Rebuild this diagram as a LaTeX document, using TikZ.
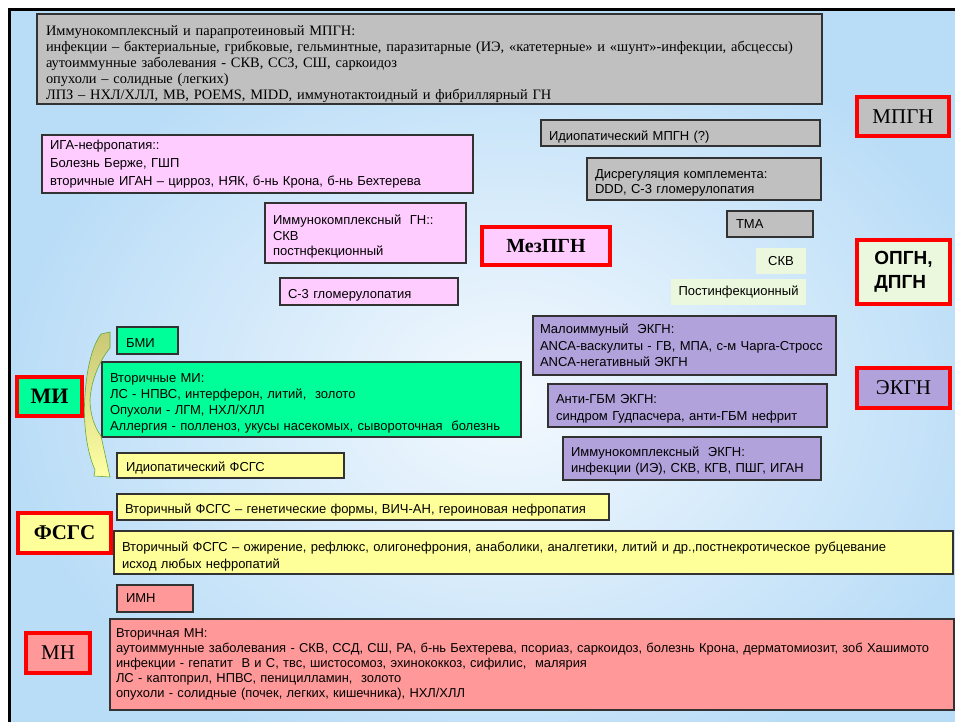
\documentclass[tikz,border=0pt]{standalone}
\usepackage{fontspec}
\setmainfont{Liberation Sans}
\newfontfamily\serifru{Liberation Serif}
\definecolor{bgin}{RGB}{244,249,254}
\definecolor{bgout}{RGB}{186,221,247}
\definecolor{boxline}{RGB}{50,50,50}
\definecolor{cgray}{RGB}{192,192,192}
\definecolor{cpink}{RGB}{255,204,255}
\definecolor{cgreen}{RGB}{0,255,153}
\definecolor{cyellow}{RGB}{255,255,153}
\definecolor{clav}{RGB}{178,162,220}
\definecolor{cred}{RGB}{255,153,153}
\definecolor{clgreen}{RGB}{236,248,222}
\definecolor{khaki}{RGB}{200,200,118}
\definecolor{paleyel}{RGB}{255,255,165}
\definecolor{arrgreen}{RGB}{100,170,60}
\tikzset{
  box/.style={draw=boxline, line width=1.1pt, anchor=north west, outer sep=0pt,
    inner xsep=8pt, inner ysep=0pt, align=left, font=\fontsize{13}{16}\selectfont},
  pushdown/.style={execute at begin node={\rule{0pt}{#1}}},
  lab/.style={draw=red, line width=3.5pt, anchor=north west, outer sep=0pt,
    inner sep=0pt, align=center, font=\serifru\fontsize{21}{24}\selectfont},
  plain/.style={anchor=north west, outer sep=0pt, inner sep=0pt, align=center,
    font=\fontsize{13}{16}\selectfont}
}
\begin{document}
\begin{tikzpicture}[x=1pt,y=-1pt]
\useasboundingbox (0,0) rectangle (955,722);
\clip (0,0) rectangle (955,722);
\fill[white] (0,0) rectangle (955,722);
\shade[inner color=bgin, outer color=bgout] (9,10) rectangle (1010,780);
\draw[line width=3pt] (9,780) -- (9,10) -- (1010,10);

% MPGN group
\node[box, fill=cgray, minimum width=785pt, minimum height=90pt, text width=767pt, pushdown=21pt,
  inner xsep=9pt, font=\serifru\fontsize{14.4}{16}\selectfont] (top) at (37,14)
 {Иммунокомплексный и парапротеиновый МПГН:\\
  инфекции – бактериальные, грибковые, гельминтные, паразитарные (ИЭ, «катетерные» и «шунт»-инфекции, абсцессы)\\
  аутоиммунные заболевания - СКВ, ССЗ, СШ, саркоидоз\\
  опухоли – солидные (легких)\\
  ЛПЗ – НХЛ/ХЛЛ, МВ, POEMS, MIDD, иммунотактоидный и фибриллярный ГН};
\node[lab, fill=cgray, minimum width=92pt, minimum height=39pt] (mpgn) at (857,97) {МПГН};
\node[box, fill=cgray, minimum width=279pt, minimum height=26pt, text width=263pt, pushdown=16.8pt] (idmpgn) at (541,120) {Идиопатический МПГН (?)};
\node[box, fill=cgray, minimum width=234pt, minimum height=42pt, text width=218pt, pushdown=16.8pt,
  font=\fontsize{13}{15.5}\selectfont] (disreg) at (587,158) {Дисрегуляция комплемента:\\DDD, С-3 гломерулопатия};
\node[box, fill=cgray, minimum width=86pt, minimum height=26pt, text width=68pt, inner xsep=9pt] (tma) at (727,211) {ТМА};

% MezPGN group
\node[box, fill=cpink, minimum width=431pt, minimum height=58pt, text width=415pt,
  font=\fontsize{13}{18}\selectfont] (iga) at (42,135)
 {ИГА-нефропатия::\\Болезнь Берже, ГШП\\вторичные ИГАН – цирроз, НЯК, б-нь Крона, б-нь Бехтерева};
\node[box, fill=cpink, minimum width=201pt, minimum height=60pt, text width=185pt, pushdown=16.8pt,
  font=\fontsize{13}{15.5}\selectfont] (ikgn) at (265,203)
 {Иммунокомплексный\ \ ГН::\\СКВ\\постнфекционный};
\node[box, fill=cpink, minimum width=178pt, minimum height=27pt, text width=162pt, pushdown=15.8pt] (c3) at (280,278) {С-3 гломерулопатия};
\node[lab, fill=cpink, minimum width=128pt, minimum height=38pt, font=\serifru\bfseries\fontsize{20}{24}\selectfont] (mez) at (482,227) {МезПГН};

% OPGN group
\node[plain, fill=clgreen, minimum width=50pt, minimum height=26pt] (skv) at (756,248) {СКВ};
\node[plain, fill=clgreen, minimum width=135pt, minimum height=26pt] (postinf) at (671,279) {Постинфекционный};
\node[lab, fill=clgreen, minimum width=93pt, minimum height=64pt, align=left,
  font=\bfseries\fontsize{19}{24}\selectfont] (opgn) at (857,240) {ОПГН,\\ДПГН};

% MI group
\node[box, fill=cgreen, minimum width=61pt, minimum height=27pt, text width=43pt, inner xsep=9pt, pushdown=14.8pt] (bmi) at (117,327) {БМИ};
\node[box, fill=cgreen, minimum width=419pt, minimum height=75pt, text width=403pt, pushdown=16.8pt] (vtmi) at (102,362)
 {Вторичные МИ:\\ЛС - НПВС,\ интерферон,\ литий,\ \ золото\\Опухоли\ - ЛГМ,\ НХЛ/ХЛЛ\\Аллергия\ - полленоз,\ укусы насекомых,\ сывороточная\ \ болезнь};
\node[lab, fill=cgreen, minimum width=65pt, minimum height=39pt, font=\serifru\bfseries\fontsize{22}{24}\selectfont] (mi) at (17,377) {МИ};
\node[box, fill=cyellow, minimum width=227pt, minimum height=25pt, text width=209pt, inner xsep=9pt, pushdown=13.8pt] (idfsgs) at (117,453) {Идиопатический ФСГС};
\shade[top color=khaki, bottom color=paleyel, draw=arrgreen, line width=0.6pt]
 (101,334) -- (110,332) -- (110,348)
 .. controls (100,360) and (91,380) .. (90,400)
 .. controls (90,415) and (95,428) .. (101,436)
 -- (110,477) -- (94,476) -- (95,470)
 .. controls (86,450) and (83,420) .. (85,395)
 .. controls (87,365) and (93,345) .. (101,334) -- cycle;

% EKGN group
\node[box, fill=clav, minimum width=303pt, minimum height=59pt, text width=289pt, inner xsep=7pt,
  font=\fontsize{13}{16.5}\selectfont] (malo) at (533,316)
 {Малоиммуный\ \ ЭКГН:\\ANCA-васкулиты - ГВ, МПА, с-м Чарга-Стросс\\ANCA-негативный ЭКГН};
\node[box, fill=clav, minimum width=279pt, minimum height=43pt, text width=263pt, pushdown=15.8pt,
  font=\fontsize{13}{17.5}\selectfont] (antigbm) at (548,384)
 {Анти-ГБМ ЭКГН:\\синдром Гудпасчера, анти-ГБМ нефрит};
\node[box, fill=clav, minimum width=258pt, minimum height=43pt, text width=242pt, pushdown=13.8pt] (ikekgn) at (563,437)
 {Иммунокомплексный\ \ ЭКГН:\\инфекции (ИЭ), СКВ, КГВ, ПШГ,\ ИГАН};
\node[lab, fill=clav, minimum width=93pt, minimum height=40pt] (ekgn) at (857,368) {ЭКГН};

% FSGS group
\node[box, fill=cyellow, minimum width=492pt, minimum height=26pt, text width=476pt, pushdown=15.8pt] (fsgs1) at (117,494)
 {Вторичный ФСГС – генетические формы, ВИЧ-АН, героиновая нефропатия};
\node[lab, fill=cyellow, minimum width=93pt, minimum height=40pt, font=\serifru\bfseries\fontsize{21}{24}\selectfont] (fsgs) at (18,513) {ФСГС};
\node[box, fill=cyellow, minimum width=839pt, minimum height=43pt, text width=823pt, pushdown=16.8pt,
  font=\fontsize{13}{17}\selectfont] (fsgs2) at (114,531)
 {Вторичный ФСГС – ожирение, рефлюкс, олигонефрония, анаболики, аналгетики, литий и др.,постнекротическое рубцевание\\исход любых нефропатий};

% MN group
\node[box, fill=cred, minimum width=76pt, minimum height=27pt, text width=58pt, inner xsep=9pt] (imn) at (117,585) {ИМН};
\node[lab, fill=cred, minimum width=64pt, minimum height=40pt] (mn) at (26,633) {МН};
\node[box, fill=cred, minimum width=844pt, minimum height=91pt, text width=832pt, inner xsep=6pt,
  font=\fontsize{12.9}{15}\selectfont] (vtmn) at (110,619)
 {Вторичная МН:\\
  аутоиммунные заболевания - СКВ, ССД, СШ, РА, б-нь Бехтерева, псориаз, саркоидоз, болезнь Крона, дерматомиозит, зоб Хашимото\\
  инфекции - гепатит\ \ B и C, твс, шистосомоз, эхинококкоз, сифилис,\ \ малярия\\
  ЛС - каптоприл, НПВС, пеницилламин,\ \ золото\\
  опухоли - солидные (почек, легких, кишечника), НХЛ/ХЛЛ};
\end{tikzpicture}
\end{document}
